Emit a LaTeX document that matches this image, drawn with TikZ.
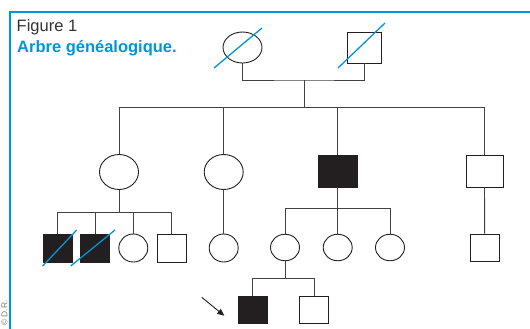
\documentclass[tikz,border=0pt]{standalone}
\usepackage{fontspec}
\setmainfont{Liberation Sans}
\usetikzlibrary{shapes.geometric,arrows.meta}
\definecolor{figblue}{RGB}{0,150,214}
\definecolor{ink}{RGB}{35,31,32}
\begin{document}
\begin{tikzpicture}[x=1pt,y=-1pt,
  link/.style={draw=ink!85, line width=0.9pt},
  female/.style={ellipse, draw=ink, line width=0.9pt, inner sep=0pt, fill=white},
  male/.style={rectangle, draw=ink, line width=0.9pt, inner sep=0pt, fill=white},
  affected/.style={fill=ink},
  gsize/.style={minimum width=39pt, minimum height=33pt},
  ssize/.style={minimum width=29pt, minimum height=28pt},
  deceased/.style={draw=figblue, line width=1.3pt},
  figframe/.style={draw=figblue, line width=1.9pt},
  pointer/.style={draw=ink, line width=0.9pt, -{Triangle[length=7pt,width=6pt]}}]
\useasboundingbox (0,0) rectangle (530,329);
% frame
\coordinate (fr1) at (531,12);
\coordinate (fr2) at (10,12);
\coordinate (fr3) at (10,330);
\draw[figframe] (fr1) -- (fr2) -- (fr3);
% titles
\node[anchor=base west, inner sep=0pt, font=\fontsize{16.5}{18}\selectfont, text=black!80] (fig) at (16.5,31.7) {Figure 1};
\node[anchor=base west, inner sep=0pt, font=\fontsize{16.5}{18}\selectfont\bfseries, text=figblue] (title) at (17,52.3) {Arbre généalogique.};
\node[rotate=90, anchor=west, inner sep=0pt, font=\fontsize{8.5}{10}\selectfont, text=black!50] (copy) at (4.5,326) {© D.R.};
% generation I
\node[female, minimum width=39pt, minimum height=31pt] (If) at (242.5,47.5) {};
\node[male, minimum width=34pt, minimum height=31pt] (Im) at (364,47.5) {};
% generation II
\node[female, gsize, minimum height=35pt] (A) at (119,172) {};
\node[female, gsize, minimum height=35pt] (B) at (223.7,172) {};
\node[male, affected, gsize, minimum height=32pt] (C) at (337.7,171) {};
\node[male, minimum width=37pt, minimum height=32pt] (D) at (484.5,171) {};
% generation III
\node[male, affected, ssize] (E) at (57.5,248) {};
\node[male, affected, ssize] (F) at (95.3,248) {};
\node[female, ssize] (G) at (133.3,248) {};
\node[male, ssize] (H) at (171.7,248) {};
\node[female, ssize] (I) at (223.7,248) {};
\node[female, ssize, minimum height=26.5pt] (J) at (285,247.5) {};
\node[female, ssize, minimum height=26.5pt] (K) at (337.7,247.5) {};
\node[female, ssize, minimum height=26.5pt] (L) at (390,247.5) {};
\node[male, ssize, minimum height=27pt] (M) at (484.7,248.3) {};
% generation IV
\node[male, affected, ssize, minimum height=27.3pt] (N) at (252.5,309.7) {};
\node[male, ssize, minimum height=27.3pt] (O) at (314,309.7) {};
% connectors
\coordinate (mI) at (304.7,80);
\coordinate (sI) at (304.7,107);
\draw[link] (If.south) |- (mI) -| (Im.south);
\draw[link] (mI) -- (sI);
\foreach \c in {A,B,C,D} \draw[link] (sI) -| (\c.north);
\coordinate (sA) at (119,212.7);
\draw[link] (A.south) -- (sA);
\foreach \c in {E,F,G,H} \draw[link] (sA) -| (\c.north);
\draw[link] (B.south) -- (I.north);
\coordinate (sC) at (337.7,208.3);
\draw[link] (C.south) -- (sC);
\foreach \c in {J,K,L} \draw[link] (sC) -| (\c.north);
\draw[link] (D.south) -- (M.north);
\coordinate (sJ) at (285,278.3);
\draw[link] (J.south) -- (sJ);
\foreach \c in {N,O} \draw[link] (sJ) -| (\c.north);
% proband arrow
\coordinate (arrS) at (201.7,297.3);
\coordinate (arrE) at (224.3,315.7);
\draw[pointer] (arrS) -- (arrE);
% deceased slashes
\draw[deceased] ([shift={(-28.5,20.5)}]If.center) -- ([shift={(19.5,-19.5)}]If.center);
\draw[deceased] ([shift={(-26,20.5)}]Im.center) -- ([shift={(21,-24.5)}]Im.center);
\draw[deceased] ([shift={(-14.8,18)}]E.center) -- ([shift={(19.2,-18)}]E.center);
\draw[deceased] ([shift={(-24.6,18)}]F.center) -- ([shift={(19.7,-18)}]F.center);
\end{tikzpicture}
\end{document}
